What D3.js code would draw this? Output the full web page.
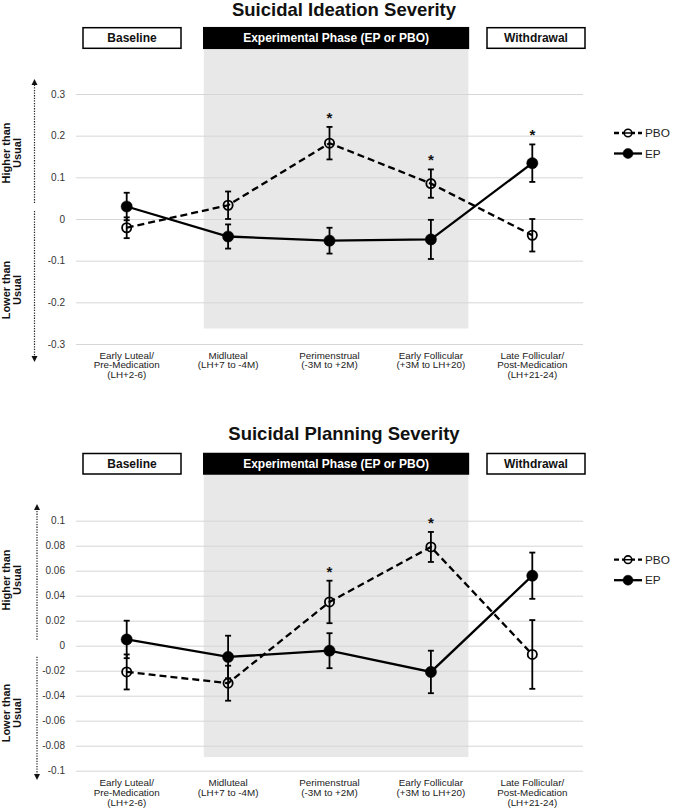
<!DOCTYPE html>
<html>
<head>
<meta charset="utf-8">
<script src="https://cdn.jsdelivr.net/npm/d3@7"></script>
<style>
  html, body { margin: 0; padding: 0; background: #fff; }
  svg { display: block; font-family: "Liberation Sans", Arial, Helvetica, sans-serif; }
</style>
</head>
<body>
<svg id="chart" width="674" height="810"></svg>
<script>
// ---------- DATA ----------
const categories = [
  ["Early Luteal/", "Pre-Medication", "(LH+2-6)"],
  ["Midluteal", "(LH+7 to -4M)"],
  ["Perimenstrual", "(-3M to +2M)"],
  ["Early Follicular", "(+3M to LH+20)"],
  ["Late Follicular/", "Post-Medication", "(LH+21-24)"]
];
const seriesNames = ["PBO", "EP"];
const phaseLabels = ["Baseline", "Experimental Phase (EP or PBO)", "Withdrawal"];
const directionLabels = [["Higher than", "Usual"], ["Lower than", "Usual"]];

// Panel 1: Suicidal Ideation Severity
const ideationTitle = "Suicidal Ideation Severity";
const ideationPBO    = [-0.021, 0.033, 0.182, 0.085, -0.039];
const ideationPBOErr = [0.025, 0.033, 0.039, 0.034, 0.039];
const ideationEP     = [0.030, -0.042, -0.052, -0.049, 0.134];
const ideationEPErr  = [0.033, 0.029, 0.031, 0.047, 0.045];
const ideationSig    = [false, false, true, true, true];
const ideationTicks  = [0.3, 0.2, 0.1, 0, -0.1, -0.2, -0.3];
const ideationTickLabels = ["0.3", "0.2", "0.1", "0", "-0.1", "-0.2", "-0.3"];

// Panel 2: Suicidal Planning Severity
const planningTitle = "Suicidal Planning Severity";
const planningPBO    = [-0.021, -0.030, 0.035, 0.079, -0.007];
const planningPBOErr = [0.014, 0.014, 0.017, 0.012, 0.0275];
const planningEP     = [0.005, -0.009, -0.004, -0.021, 0.056];
const planningEPErr  = [0.015, 0.017, 0.014, 0.017, 0.0185];
const planningSig    = [false, false, true, true, false];
const planningTicks  = [0.1, 0.08, 0.06, 0.04, 0.02, 0, -0.02, -0.04, -0.06, -0.08, -0.1];
const planningTickLabels = ["0.1", "0.08", "0.06", "0.04", "0.02", "0", "-0.02", "-0.04", "-0.06", "-0.08", "-0.1"];

// ---------- DRAW ----------
const svg = d3.select("#chart");
const catKeys = categories.map((c, i) => "c" + i);
const x = d3.scalePoint().domain(catKeys).range([76, 583]).padding(0.5);
const step = x.step();

function drawPanel(cfg) {
  const g = svg.append("g");
  const y = d3.scaleLinear().domain([d3.min(cfg.ticks), d3.max(cfg.ticks)]).range([cfg.yBottom, cfg.yTop]);

  // title
  g.append("text").attr("x", 344).attr("y", cfg.titleY)
    .attr("text-anchor", "middle").attr("font-size", 18.5).attr("font-weight", "bold")
    .attr("fill", "#111").text(cfg.title);

  // shaded experimental region
  const shadeL = x(catKeys[1]) - 0.24 * step;
  const shadeR = x(catKeys[3]) + 0.37 * step;
  g.append("rect").attr("x", shadeL).attr("y", cfg.boxBottom)
    .attr("width", shadeR - shadeL).attr("height", cfg.shadeBottom - cfg.boxBottom)
    .attr("fill", "#e8e8e8");

  // header boxes
  const boxes = [
    { l: 83, r: 181, fill: "#fff", color: "#111" },
    { l: shadeL, r: shadeR, fill: "#000", color: "#fff" },
    { l: 487, r: 585, fill: "#fff", color: "#111" }
  ];
  boxes.forEach((b, i) => {
    g.append("rect").attr("x", b.l).attr("y", cfg.boxTop)
      .attr("width", b.r - b.l).attr("height", cfg.boxBottom - cfg.boxTop)
      .attr("fill", b.fill).attr("stroke", "#000").attr("stroke-width", 1.5);
    g.append("text").attr("x", (b.l + b.r) / 2).attr("y", (cfg.boxTop + cfg.boxBottom) / 2 + 4.3)
      .attr("text-anchor", "middle").attr("font-size", 12).attr("font-weight", "bold")
      .attr("fill", b.color).text(phaseLabels[i]);
  });

  // gridlines + tick labels
  const axis = d3.axisLeft(y).tickValues(cfg.ticks)
    .tickFormat((d, i) => cfg.tickLabels[i])
    .tickSize(-(583 - 76)).tickPadding(11);
  const ax = g.append("g").attr("transform", "translate(76,0)").call(axis);
  ax.select(".domain").remove();
  ax.selectAll(".tick line").attr("stroke", "#d6d6d6").attr("stroke-width", 1);
  ax.selectAll(".tick text").attr("font-size", 10).attr("fill", "#333")
    .attr("font-family", "Liberation Sans, Arial, sans-serif");

  // category labels
  categories.forEach((lines, i) => {
    const t = g.append("text").attr("text-anchor", "middle").attr("font-size", 9.8).attr("fill", "#222");
    lines.forEach((ln, j) => {
      t.append("tspan").attr("x", x(catKeys[i])).attr("y", cfg.labelY + j * 9.8).text(ln);
    });
  });

  // direction annotation (dotted arrows + rotated labels)
  const y0 = y(0);
  const ax0 = cfg.arrowX;
  const arrows = [
    { from: y0 - cfg.gapTop, to: cfg.arrowTop, dir: -1 },
    { from: y0 + cfg.gapBottom, to: cfg.arrowBottom, dir: 1 }
  ];
  arrows.forEach(a => {
    g.append("line").attr("x1", ax0).attr("x2", ax0).attr("y1", a.from).attr("y2", a.to - a.dir * 5)
      .attr("stroke", "#222").attr("stroke-width", 1.2).attr("stroke-dasharray", "1.3,1.3");
    g.append("path")
      .attr("d", `M${ax0 - 3},${a.to - a.dir * 6} L${ax0 + 3},${a.to - a.dir * 6} L${ax0},${a.to} Z`)
      .attr("fill", "#111");
  });
  directionLabels.forEach((lines, k) => {
    const t = g.append("text").attr("transform", "rotate(-90)")
      .attr("text-anchor", "middle").attr("font-size", 11).attr("font-weight", "bold").attr("fill", "#111");
    lines.forEach((ln, j) => {
      t.append("tspan").attr("x", -cfg.labelCenters[k]).attr("y", 10 + j * 11).text(ln);
    });
  });

  // series
  const series = [
    { name: seriesNames[0], vals: cfg.pbo, err: cfg.pboErr, dash: "7,4", open: true },
    { name: seriesNames[1], vals: cfg.ep, err: cfg.epErr, dash: null, open: false }
  ];
  const line = d3.line().x((d, i) => x(catKeys[i])).y(d => y(d));
  series.forEach(s => {
    g.append("path").datum(s.vals).attr("d", line).attr("fill", "none")
      .attr("stroke", "#000").attr("stroke-width", 2.3)
      .attr("stroke-dasharray", s.dash);
  });
  series.forEach(s => {
    s.vals.forEach((v, i) => {
      const cx = x(catKeys[i]);
      const yt = y(v + s.err[i]), yb = y(v - s.err[i]);
      g.append("line").attr("x1", cx).attr("x2", cx).attr("y1", yt).attr("y2", yb)
        .attr("stroke", "#000").attr("stroke-width", 1.8);
      [yt, yb].forEach(yy => g.append("line").attr("x1", cx - 3).attr("x2", cx + 3)
        .attr("y1", yy).attr("y2", yy).attr("stroke", "#000").attr("stroke-width", 1.8));
    });
  });
  series.forEach(s => {
    s.vals.forEach((v, i) => {
      g.append("circle").attr("cx", x(catKeys[i])).attr("cy", y(v))
        .attr("r", s.open ? 4.6 : 5.6)
        .attr("fill", s.open ? "none" : "#000")
        .attr("stroke", "#000").attr("stroke-width", s.open ? 1.8 : 0.5);
    });
  });

  // significance asterisks
  cfg.sig.forEach((sig, i) => {
    if (!sig) return;
    const top = Math.max(cfg.pbo[i] + cfg.pboErr[i], cfg.ep[i] + cfg.epErr[i]);
    g.append("text").attr("x", x(catKeys[i])).attr("y", y(top) - 4)
      .attr("text-anchor", "middle").attr("font-size", 15).attr("font-weight", "bold")
      .attr("fill", "#111").text("*");
  });

  // legend
  const ly = [cfg.yTop + 39, cfg.yTop + 59.5];
  series.forEach((s, k) => {
    g.append("line").attr("x1", 614).attr("x2", 642).attr("y1", ly[k]).attr("y2", ly[k])
      .attr("stroke", "#000").attr("stroke-width", 2.3).attr("stroke-dasharray", s.open ? "5,3" : null);
    g.append("circle").attr("cx", 628).attr("cy", ly[k]).attr("r", s.open ? 3.8 : 5)
      .attr("fill", s.open ? "#fff" : "#000").attr("stroke", "#000").attr("stroke-width", s.open ? 1.6 : 0.5);
    if (s.open) {
      g.append("line").attr("x1", 624.5).attr("x2", 631.5).attr("y1", ly[k]).attr("y2", ly[k])
        .attr("stroke", "#000").attr("stroke-width", 1.5);
    }
    g.append("text").attr("x", 645).attr("y", ly[k] + 4.2).attr("font-size", 11.8)
      .attr("fill", "#222").text(s.name);
  });
}

drawPanel({
  title: ideationTitle, titleY: 16,
  boxTop: 27.7, boxBottom: 48.3, shadeBottom: 328.5,
  yTop: 94, yBottom: 344, labelY: 358.5,
  ticks: ideationTicks, tickLabels: ideationTickLabels,
  pbo: ideationPBO, pboErr: ideationPBOErr, ep: ideationEP, epErr: ideationEPErr, sig: ideationSig,
  arrowX: 34.5, arrowTop: 79, arrowBottom: 362, gapTop: 16, gapBottom: -8,
  labelCenters: [153, 290]
});

drawPanel({
  title: planningTitle, titleY: 440,
  boxTop: 453.5, boxBottom: 474, shadeBottom: 757,
  yTop: 520.7, yBottom: 770.7, labelY: 786,
  ticks: planningTicks, tickLabels: planningTickLabels,
  pbo: planningPBO, pboErr: planningPBOErr, ep: planningEP, epErr: planningEPErr, sig: planningSig,
  arrowX: 37, arrowTop: 504, arrowBottom: 780, gapTop: 6, gapBottom: 11,
  labelCenters: [580, 713]
});
</script>
</body>
</html>
